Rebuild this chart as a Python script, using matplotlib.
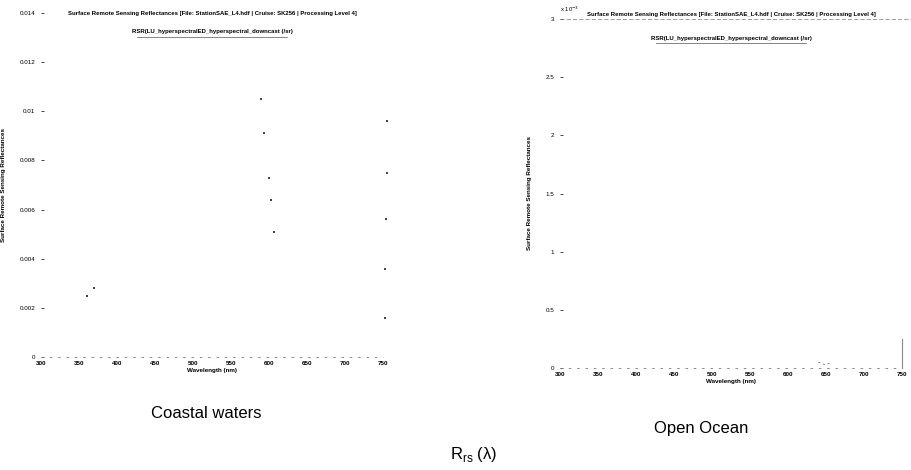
import matplotlib
matplotlib.use("Agg")
import matplotlib.pyplot as plt

# Axis ticks
wavelength_ticks = [300, 350, 400, 450, 500, 550, 600, 650, 700, 750]
coastal_yticks = [0, 0.002, 0.004, 0.006, 0.008, 0.01, 0.012, 0.014]
coastal_yticklabels = ["0", "0.002", "0.004", "0.006", "0.008", "0.01", "0.012", "0.014"]
ocean_yticks = [0, 0.5, 1, 1.5, 2, 2.5, 3]          # units of 1e-3
ocean_yticklabels = ["0", "0.5", "1", "1.5", "2", "2.5", "3"]

# What is left visible of the (faded) spectra
coastal_nm = [589, 594, 600, 603, 607, 755, 755, 754, 752, 752, 370, 360]
coastal_rrs = [0.0105, 0.0091, 0.0073, 0.0064, 0.0051,
               0.0096, 0.0075, 0.0056, 0.0036, 0.0016, 0.0028, 0.0025]
ocean_nm = [640, 648, 656]
ocean_rrs = [0.05, 0.03, 0.04]                       # units of 1e-3

title_1 = ("Surface Remote Sensing Reflectances [File: StationSAE_L4.hdf | "
           "Cruise: SK256 | Processing Level 4]")
title_2 = "RSR(LU_hyperspectralED_hyperspectral_downcast (/sr)"
ylab = "Surface Remote Sensing Reflectances"
xlab = "Wavelength (nm)"

plt.rcParams['font.family'] = ['Liberation Sans', 'DejaVu Sans']

W, H = 912, 470
fig = plt.figure(figsize=(W / 100, H / 100), dpi=100)


def px_axes(x0, x1, y_top, y_bot):
    return fig.add_axes([x0 / W, 1 - y_bot / H, (x1 - x0) / W, (y_bot - y_top) / H])


def style(ax, ymax, yticks, yticklabels, title_y=1.0):
    ax.set_xlim(300, 750)
    ax.set_ylim(0, ymax)
    for s in ax.spines.values():
        s.set_visible(False)
    ax.set_xticks(wavelength_ticks)
    ax.set_xticklabels([str(t) for t in wavelength_ticks], fontsize=4.5, fontweight='bold')
    ax.set_yticks(yticks)
    ax.set_yticklabels(yticklabels, fontsize=4.5)
    ax.tick_params(axis='x', length=0, pad=3)
    ax.tick_params(axis='y', direction='in', length=2, width=0.5, pad=4, colors='black')
    # faded bottom axis
    ax.axhline(0, color='#777777', lw=0.6, ls=(0, (3, 7)), clip_on=False)
    ax.set_xlabel(xlab, fontsize=4.5, fontweight='bold', labelpad=1)
    ax.set_ylabel(ylab, fontsize=4.5, fontweight='bold', labelpad=10)
    ax.text(0.5, title_y, title_1, transform=ax.transAxes, ha='center', va='center',
            fontsize=4.3, fontweight='bold')
    ax.text(0.5, 0.945, title_2, transform=ax.transAxes, ha='center', va='center',
            fontsize=4.3, fontweight='bold')
    ax.plot([0.28, 0.72], [0.93, 0.93], transform=ax.transAxes, color='#555555',
            lw=0.5, clip_on=False)


# Coastal waters
ax1 = px_axes(41, 383, 13, 357)
style(ax1, 0.014, coastal_yticks, coastal_yticklabels)
ax1.scatter(coastal_nm, coastal_rrs, s=1.5, color='#444444', marker='s', lw=0, clip_on=False)

# Open ocean
ax2 = px_axes(560, 902, 19, 368)
style(ax2, 3, ocean_yticks, ocean_yticklabels, title_y=1.012)
ax2.plot([0.0, 1.03], [1.0, 1.0], transform=ax2.transAxes, color='#777777', lw=0.5,
         ls=(0, (6, 3)), clip_on=False)
ax2.plot([750, 750], [0, 0.25], color='#888888', lw=0.8, clip_on=False)
ax2.plot(ocean_nm, ocean_rrs, color='#555555', lw=0.5, ls=(0, (3, 4)))
ax2.text(0.0, 1.015, "x 10$^{-3}$", transform=ax2.transAxes, fontsize=4.3, ha='left', va='bottom')

fig.text(206 / W, 1 - 413 / H, "Coastal waters", fontsize=12, ha='center', va='center')
fig.text(701 / W, 1 - 428 / H, "Open Ocean", fontsize=12, ha='center', va='center')
fig.text(474 / W, 1 - 455 / H, "R$_\\mathregular{rs}$ (λ)", fontsize=12,
         ha='center', va='center')

fig.savefig("out.png", dpi=100)
